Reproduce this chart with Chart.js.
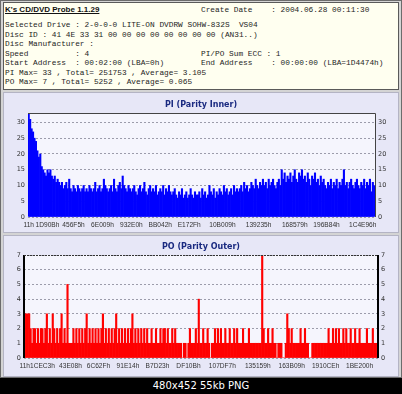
<!DOCTYPE html>
<html>
<head>
<meta charset="utf-8">
<script src="https://cdn.jsdelivr.net/npm/chart.js@4.4.1/dist/chart.umd.min.js"></script>
<style>
body { margin: 0; width: 402px; height: 394px; background: #000; position: relative; overflow: hidden; }
.box { position: absolute; box-sizing: border-box; }
#frame { left: 0; top: 0; width: 402px; height: 378px; background: #d4d4d4; border: 1px solid #6c6c6c; }
#head { left: 3px; top: 2px; width: 396px; height: 88px; background: #fffff0; border: 1px solid #5a5a5a; }
#piPanel { left: 3px; top: 92px; width: 396px; height: 141px; background: #e7e7f7; border: 1px solid #b4b4c4; }
#poPanel { left: 3px; top: 235px; width: 396px; height: 142px; background: #e7e7f7; border: 1px solid #b4b4c4; }
.t { position: absolute; white-space: pre; font-family: "Liberation Mono", monospace; font-size: 7.8px; color: #1e1e1e; line-height: 9px; }
#appName { position: absolute; left: 5px; top: 5px; font-family: "Liberation Sans", Arial, sans-serif; font-weight: bold; font-size: 8px; text-decoration: underline; color: #111; }
#caption { position: absolute; left: 0; top: 378px; width: 402px; height: 16px; line-height: 16px; text-align: center; color: #fff; font-family: "DejaVu Sans", sans-serif; font-size: 10px; }
canvas { position: absolute; left: 0; }
</style>
</head>
<body>
<div class="box" id="frame"></div>
<div class="box" id="head"></div>
<div class="box" id="piPanel"></div>
<div class="box" id="poPanel"></div>

<div id="appName">K's CD/DVD Probe 1.1.29</div>
<div class="t" style="left:201px;top:6px">Create Date    : 2004.06.28 00:11:30</div>
<div class="t" style="left:5px;top:21px">Selected Drive : 2-0-0-0 LITE-ON DVDRW SOHW-832S  VS04</div>
<div class="t" style="left:5px;top:30.5px">Disc ID : 41 4E 33 31 00 00 00 00 00 00 00 00 (AN31..)</div>
<div class="t" style="left:5px;top:40px">Disc Manufacturer :</div>
<div class="t" style="left:5px;top:49.5px">Speed          : 4</div>
<div class="t" style="left:201px;top:49.5px">PI/PO Sum ECC : 1</div>
<div class="t" style="left:5px;top:59px">Start Address  : 00:02:00 (LBA=0h)</div>
<div class="t" style="left:201px;top:59px">End Address    : 00:00:00 (LBA=1D4474h)</div>
<div class="t" style="left:5px;top:68.5px">PI Max= 33 , Total= 251753 , Average= 3.105</div>
<div class="t" style="left:5px;top:78px">PO Max= 7 , Total= 5252 , Average= 0.065</div>

<canvas id="piChart" width="402" height="141" style="top:92px"></canvas>
<canvas id="poChart" width="402" height="142" style="top:235px"></canvas>
<div id="caption">480x452 55kb PNG</div>

<script>
// PI errors per sample left to right
var piValues = [
    33, 31, 28, 27, 25, 24, 21, 19, 20, 16,
    15, 14, 13, 15, 14, 15, 13, 12, 13, 11,
    12, 11, 10, 11, 9, 10, 11, 9, 12,
    9, 8, 10, 9, 8, 10, 9, 8, 9, 10, 8, 9,
    8, 10, 9, 8, 9, 11, 8, 9, 10, 8, 9, 12, 10, 9, 8,
    9, 10, 8, 12, 9, 8, 10, 11, 9, 13, 10, 9, 8, 10, 9,
    8, 9, 10, 8, 7, 9, 10, 8, 9, 11, 8, 7, 9, 10, 8, 9, 8, 10, 7, 8, 9, 8, 10, 7, 9, 8, 10, 8,
    7, 8, 9, 7, 6, 8, 7, 9, 6, 7, 8, 6, 7, 9, 7, 6, 8, 7,
    7, 8, 6, 9, 7, 8, 6, 7, 10, 8, 7, 9, 6, 8, 7, 9, 8, 7, 10, 8, 9, 7, 8, 9, 7, 10, 8, 9, 8,
    9, 10, 8, 11, 9, 10, 8, 9, 11, 10, 9, 12, 10, 9, 11, 10,
    12, 10, 11, 9, 12, 10, 11, 12, 10, 9, 11, 12, 10, 15,
    12, 14, 11, 13, 12, 14, 11, 13, 15, 12, 11, 14, 13, 15, 12,
    13, 11, 14, 12, 10, 13, 12, 14, 11, 12, 10, 13, 11, 12, 10,
    9, 11, 10, 12, 9, 11, 10, 12, 9, 11, 10, 12, 15, 10, 11,
    9, 11, 12, 10, 9, 11, 12, 10, 9, 11, 10, 12, 9, 11, 10, 12, 8, 11, 10
];

// PO errors per sample
var poValues = [
    3, 3, 3, 3, 2, 1, 2, 2, 1, 2,
    1, 2, 2, 1, 2, 3, 1, 2, 1, 3,
    2, 1, 2, 1, 2, 3, 1, 2, 1, 5,
    1, 1, 1, 2, 1, 2, 1, 2, 1, 2,
    1, 2, 3, 1, 2, 1, 2, 1, 2, 1,
    2, 1, 2, 3, 1, 2, 1, 2, 1, 2,
    1, 2, 3, 1, 2, 1, 2, 1, 2, 1,
    2, 1, 2, 3, 1, 2, 1, 2, 1, 2,
    1, 2, 1, 2, 1, 1, 2, 1, 1, 2,
    1, 1, 2, 1, 2, 2, 1, 2, 1, 1,
    2, 1, 2, 1, 1, 1, 1, 0, 1, 1,
    0, 1, 2, 1, 1, 1, 2, 1, 4, 1,
    1, 2, 1, 1, 2, 1, 0, 1, 1, 2,
    1, 2, 1, 2, 1, 1, 2, 1, 1, 2,
    1, 1, 2, 1, 2, 1, 1, 1, 2, 1,
    1, 1, 2, 1, 1, 1, 1, 1, 1, 1,
    1, 7, 2, 1, 1, 2, 1, 1, 2, 1,
    1, 0, 1, 1, 1, 0, 0, 1, 3, 2,
    1, 2, 1, 1, 1, 1, 1, 2, 1, 1,
    2, 1, 1, 0, 0, 1, 1, 1, 1, 1,
    1, 1, 1, 1, 1, 1, 2, 1, 1, 2,
    1, 2, 1, 2, 1, 1, 2, 1, 2, 1,
    1, 2, 1, 1, 2, 1, 1, 2, 1, 1,
    1, 1, 2, 1, 1, 1, 2, 1, 1, 1
];

// LBA labels under each chart and the sample they sit under
var piTickLabels = ['11h', '1D90Bh', '456F5h', '6E009h', '932E0h', 'BB042h', 'E172Fh', '10B009h', '139235h', '168579h', '196B84h', '1C4E96h'];
var piTickAt = [0, 13, 31, 51, 71, 91, 111, 134, 159, 184, 206, 231];
var poTickLabels = ['11h', '1CEC3h', '43E08h', '6C62Fh', '91E14h', 'B7D23h', 'DF10Bh', '107DF7h', '135159h', '163B09h', '1910CEh', '1BE200h'];
var poTickAt = [0, 12, 31, 50, 70, 90, 111, 134, 158, 181, 204, 227];

var yFont = { family: 'DejaVu Sans', size: 6.5 };
var xFont = { family: 'Liberation Sans', size: 6.6 };

// fills the plot area and draws its frame
var plotFrame = {
    id: 'plotFrame',
    beforeDraw: function (chart, args, opts) {
        var a = chart.chartArea, c = chart.ctx;
        c.save();
        c.fillStyle = '#f5f5fd';
        c.fillRect(a.left, a.top, a.right - a.left, a.bottom - a.top);
        c.restore();
    },
    afterDraw: function (chart, args, opts) {
        var a = chart.chartArea, c = chart.ctx;
        c.save();
        if (opts.style == 'po') {
            c.strokeStyle = '#000';
            c.lineWidth = 2;
            c.beginPath();
            c.moveTo(a.left, a.top); c.lineTo(a.left, a.bottom);
            c.moveTo(a.right, a.top); c.lineTo(a.right, a.bottom);
            c.stroke();
            c.lineWidth = 1;
            c.setLineDash([2, 1]);
            c.strokeStyle = '#333';
            c.beginPath();
            c.moveTo(a.left, a.top + 0.5); c.lineTo(a.right, a.top + 0.5);
            c.stroke();
        } else {
            c.strokeStyle = '#444';
            c.lineWidth = 1;
            c.beginPath();
            c.moveTo(a.left, a.top + 0.5); c.lineTo(a.right + 0.5, a.top + 0.5); c.lineTo(a.right + 0.5, a.bottom);
            c.stroke();
        }
        c.restore();
    }
};

function makeChart(id, values, color, title, tickLabels, tickAt, yMax, yStep, box) {
    var labels = values.map(function (v, i) { return i; });
    var yTicks = {
        stepSize: yStep,
        includeBounds: false,
        padding: 3,
        color: '#333',
        font: yFont
    };
    return new Chart(document.getElementById(id).getContext('2d'), {
        type: 'bar',
        data: {
            labels: labels,
            datasets: [{
                data: values,
                backgroundColor: color,
                borderWidth: 0,
                barPercentage: 1,
                categoryPercentage: 1
            }]
        },
        options: {
            responsive: false,
            animation: false,
            events: [],
            layout: { padding: 0 },
            plugins: {
                legend: { display: false },
                tooltip: { enabled: false },
                title: {
                    display: true,
                    text: title,
                    color: '#1a2a80',
                    font: { family: 'DejaVu Sans', size: 8, weight: 'bold' },
                    padding: { top: box.titleTop, bottom: box.titleBottom }
                },
                plotFrame: { style: box.style }
            },
            scales: {
                x: {
                    grid: { display: false, drawTicks: false },
                    border: { display: false },
                    ticks: {
                        autoSkip: false,
                        maxRotation: 0,
                        minRotation: 0,
                        padding: box.xPad,
                        color: '#333',
                        font: xFont,
                        callback: function (val, i) {
                            var k = tickAt.indexOf(i);
                            return k >= 0 ? tickLabels[k] : null;
                        }
                    },
                    afterFit: function (s) { s.height = box.xHeight; }
                },
                y: {
                    min: 0,
                    max: yMax,
                    position: 'left',
                    grid: { color: '#9c9cab', drawTicks: false },
                    border: { display: false, dash: [2, 2] },
                    ticks: yTicks,
                    afterFit: function (s) { s.width = box.left; }
                },
                y2: {
                    min: 0,
                    max: yMax,
                    position: 'right',
                    grid: { display: false, drawTicks: false },
                    border: { display: false },
                    ticks: yTicks,
                    afterFit: function (s) { s.width = box.right; }
                }
            }
        },
        plugins: [plotFrame]
    });
}

makeChart('piChart', piValues, '#0000ff', 'PI (Parity Inner)', piTickLabels, piTickAt, 33, 5,
    { style: 'pi', titleTop: 8, titleBottom: 3.4, xHeight: 16, xPad: 4, left: 28, right: 27 });
makeChart('poChart', poValues, '#ff0000', 'PO (Parity Outer)', poTickLabels, poTickAt, 7, 1,
    { style: 'po', titleTop: 7, titleBottom: 3.4, xHeight: 19, xPad: 4, left: 24, right: 24 });
</script>
</body>
</html>
